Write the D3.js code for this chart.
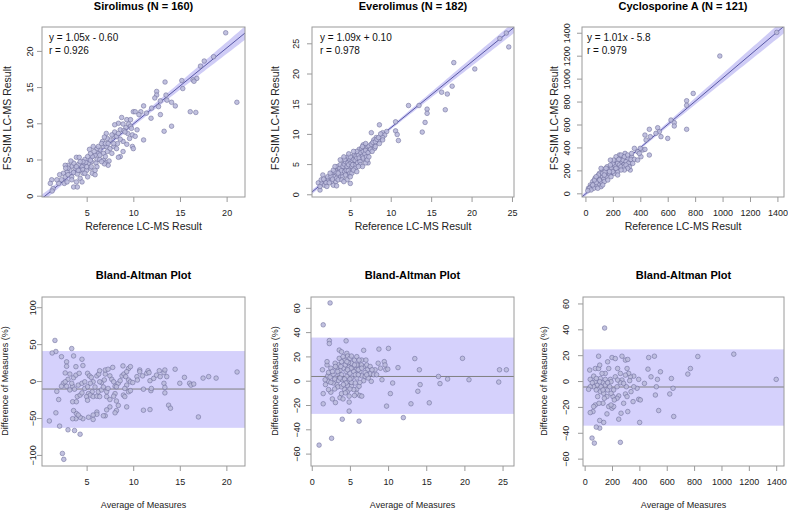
<!DOCTYPE html>
<html><head><meta charset="utf-8">
<script src="https://cdn.jsdelivr.net/npm/d3@7"></script>
<style>
body{margin:0;background:#fff;}
text{font-family:"Liberation Sans",Arial,Helvetica,sans-serif;}
</style></head>
<body>
<svg id="chart" width="788" height="510"></svg>
<script>
// ---------------- DATA ----------------
const titlesTop = ["Sirolimus (N = 160)", "Everolimus (N = 182)", "Cyclosporine A (N = 121)"];
const titleBottom = "Bland-Altman Plot";
const eqText = ["y = 1.05x - 0.60", "y = 1.09x + 0.10", "y = 1.01x - 5.8"];
const rText = ["r = 0.926", "r = 0.978", "r = 0.979"];
const slopes = [1.05, 1.09, 1.01];
const intercepts = [-0.60, 0.10, -5.8];
const baMean = [-10.8, 3.5, -4.6];
const baUpper = [40.6, 35.5, 24.5];
const baLower = [-63.3, -27.3, -34.5];

const siroXTicks = [5, 10, 15, 20];
const siroYTicks = [0, 5, 10, 15, 20];
const everXTicks = [5, 10, 15, 20, 25];
const everYTicks = [0, 5, 10, 15, 20, 25];
const cycXTicks = [0, 200, 400, 600, 800, 1000, 1200, 1400];
const cycYTicks = [0, 200, 400, 600, 800, 1000, 1200, 1400];
const siroBAXTicks = [5, 10, 15, 20];
const siroBAYTicks = [-100, -50, 0, 50, 100];
const everBAXTicks = [0, 5, 10, 15, 20, 25];
const everBAYTicks = [-60, -40, -20, 0, 20, 40, 60];
const cycBAXTicks = [0, 200, 400, 600, 800, 1000, 1200, 1400];
const cycBAYTicks = [-60, -40, -20, 0, 20, 40, 60];

// [reference, FS-SIM]
const sirolimus = [
[19.9,22.5],[21.1,12.9],[18.6,19.2],[17.6,18.6],[17.2,17.9],[16.8,16.2],[16.4,16.0],[16.5,15.8],[15.2,15.9],[15.3,14.8],
[16.1,11.6],[16.7,11.5],[13.4,15.7],[12.5,14.4],[12.5,13.9],[12.3,13.5],[13.5,13.9],[13.6,13.2],[12.9,13.1],[14.1,12.9],
[14.5,12.4],[13.3,8.9],[14.1,9.6],[11.1,12.4],[11.96,12.1],[10.8,11.6],[10.0,11.6],[10.2,11.6],[10.6,11.2],[11.9,10.7],
[12.9,11.2],[11.1,7.7],[10.4,9.1],[9.9,8.4],[10.2,8.2],[9.9,6.8],[10.0,6.5],[9.3,7.1],[8.9,7.5],[8.9,6.1],
[8.6,5.4],[8.4,5.3],[8.75,10.8],[8.4,10.0],[8.9,9.9],[9.2,9.4],[9.5,9.9],[9.7,9.6],[8.6,9.1],[9.0,9.0],
[9.4,8.6],[8.0,9.8],[8.0,8.8],[7.9,8.2],[8.2,8.2],[7.5,7.7],[7.1,8.6],[7.2,7.9],[6.7,7.5],[6.8,6.8],
[7.1,6.8],[7.5,6.5],[7.9,6.8],[7.7,5.85],[7.2,6.1],[6.8,5.85],[6.4,6.3],[6.1,6.5],[6.25,5.8],[5.9,5.6],
[6.1,5.0],[6.4,5.0],[6.8,4.9],[7.1,4.6],[7.4,4.8],[7.3,4.2],[6.9,4.4],[6.6,4.7],[5.6,5.4],[5.4,5.8],
[5.1,5.4],[4.8,5.0],[5.5,4.7],[5.2,4.5],[4.7,4.2],[4.5,4.0],[4.1,4.3],[3.9,5.3],[4.2,5.3],[4.3,3.5],
[4.6,3.6],[5.0,3.5],[5.4,3.8],[5.6,3.1],[5.9,2.9],[5.1,2.6],[4.6,3.1],[3.75,3.8],[3.4,4.1],[3.0,4.2],
[2.7,4.2],[3.2,3.5],[3.6,3.2],[4.0,3.0],[4.3,2.4],[3.9,1.9],[3.6,1.2],[4.0,1.2],[2.9,3.3],[2.5,3.1],
[2.1,2.9],[2.7,2.6],[3.0,2.9],[2.3,2.2],[2.0,1.7],[2.6,1.7],[2.9,1.9],[1.8,2.2],[1.25,2.2],[1.1,1.7],
[1.4,1.0],[1.3,0.65],[3.4,2.6],[4.5,1.9],[5.4,4.9],[5.8,6.1],[6.25,6.8],[6.6,7.2],[7.0,7.2],[7.3,7.2],
[6.9,8.1],[7.7,8.4],[8.4,8.6],[8.6,7.8],[8.3,7.2],[7.9,7.2],[6.0,4.5],[4.9,4.6],[4.6,4.7],[4.3,4.7],
[3.6,4.5],[3.3,4.8],[3.9,4.0],[3.0,3.8],[2.75,3.8],[5.0,4.0],[5.5,4.0],[6.1,4.0],[5.9,3.5],[4.8,3.1],
[4.1,3.5],[3.4,2.2],[9.3,10.5],[9.7,10.5],[9.1,8.8],[9.6,7.9],[11.4,11.4],[12.7,12.3],[9.8,9.3],[6.4,5.6],
[7.0,5.4],[5.7,6.8],[5.3,6.4],[8.2,6.5]
];
const everolimus = [
[24.3,26.7],[23.5,25.8],[24.6,24.4],[20.4,20.75],[17.8,21.8],[17.6,17.9],[17.0,16.6],[16.3,16.9],[16.75,14.0],[14.5,14.1],
[14.5,13.4],[13.5,14.7],[12.2,14.7],[14.25,11.9],[13.9,10.3],[10.6,12.0],[10.6,10.5],[10.8,9.9],[10.95,8.9],[8.6,11.5],
[7.6,10.2],[9.0,10.2],[9.5,10.4],[9.25,9.8],[9.0,9.4],[8.2,9.4],[8.5,8.9],[7.9,9.0],[7.7,8.4],[7.5,7.9],
[7.2,5.2],[5.0,1.8],[1.25,0.7],[1.04,1.9],[1.6,3.2],[1.5,1.8],[1.9,2.1],[1.8,1.5],[2.1,2.6],[2.3,2.4],
[2.5,2.8],[2.7,2.1],[2.8,3.5],[3.0,2.9],[3.2,2.1],[3.3,4.0],[3.5,3.2],[3.6,3.75],[3.8,2.9],[3.96,4.6],
[3.96,3.5],[4.2,4.0],[4.2,5.1],[4.4,4.3],[4.5,3.6],[4.6,4.9],[4.7,3.2],[4.8,5.4],[4.9,4.3],[5.0,4.9],
[5.1,5.7],[5.2,4.0],[5.3,6.2],[5.4,5.1],[5.5,4.6],[5.6,6.0],[5.75,5.4],[5.9,6.7],[6.0,5.8],[6.0,5.1],
[6.2,7.1],[6.3,6.2],[6.5,6.8],[6.5,5.7],[6.7,7.3],[6.8,6.2],[7.0,6.8],[7.1,7.45],[7.3,7.1],[7.4,7.6],
[7.7,7.9],[8.0,8.2],[1.4,2.4],[1.7,2.5],[2.0,1.9],[2.2,2.9],[2.4,1.9],[2.6,3.0],[2.8,2.5],[2.9,1.5],
[3.1,3.75],[3.3,2.65],[3.4,4.6],[3.5,2.4],[3.7,4.3],[3.75,4.9],[3.9,3.9],[4.05,2.9],[4.1,4.6],[4.25,5.0],
[4.3,3.75],[4.4,5.4],[4.5,4.0],[4.6,4.6],[4.7,5.2],[4.75,3.9],[4.8,4.9],[4.9,5.8],[4.96,3.5],[5.1,5.2],
[5.2,4.6],[5.25,5.6],[5.3,4.9],[5.4,5.8],[5.5,6.5],[5.6,5.6],[5.7,4.9],[5.7,6.3],[5.8,6.0],[5.9,5.2],
[6.0,6.5],[6.1,7.45],[6.1,6.0],[6.2,5.4],[6.3,6.9],[6.4,7.6],[6.5,6.3],[6.6,7.1],[6.6,6.0],[6.75,7.7],
[6.8,6.7],[6.9,7.3],[7.0,6.2],[7.1,7.9],[7.2,6.9],[7.3,8.0],[7.5,7.45],[7.6,8.3],[7.8,8.6],[8.0,7.6],
[8.1,8.7],[8.3,9.1],[8.5,9.4],[8.75,10.0],[3.5,3.5],[4.4,3.2],[5.2,3.5],[5.6,4.3],[6.25,4.9],[3.96,2.4],
[3.3,1.4],[4.7,6.2],[4.3,5.8],[5.8,7.1],[6.6,8.2],[6.5,4.6],[6.9,5.2],[1.25,1.3],[2.1,1.3],[5.0,6.2],
[5.4,4.0],[6.0,4.6],[3.75,5.7],[4.2,6.2],[4.6,2.4],[7.1,5.7],[7.3,6.2],[4.8,6.7],[7.7,7.1],[2.5,3.5],
[2.9,4.0],[8.1,7.9],[8.6,8.4],[9.0,9.0],[5.0,2.9],[5.8,3.75],[6.5,7.9],[4.2,2.1],[5.4,7.1],[6.9,8.4],
[3.1,4.6]
];
const cyclosporine = [
[1395,1403],[980,1197],[738,807],[738,767],[786,871],[738,558],[624,639],[648,616],[648,587],[600,479],
[551,494],[527,572],[539,537],[514,523],[466,558],[434,508],[473,494],[442,465],[466,334],[418,378],
[434,383],[400,392],[381,363],[357,392],[337,319],[327,203],[327,261],[308,305],[289,348],[272,319],
[260,276],[248,334],[223,276],[206,261],[192,232],[175,218],[158,232],[138,209],[119,189],[102,174],
[90,145],[70,131],[53,102],[36,73],[22,44],[41,58],[66,87],[85,102],[109,125],[126,145],
[150,174],[167,197],[187,218],[211,247],[235,261],[255,296],[274,290],[296,276],[313,261],[332,296],
[279,247],[240,218],[216,203],[192,180],[175,168],[150,145],[133,122],[114,102],[95,73],[78,58],
[61,44],[126,174],[114,218],[223,319],[260,334],[284,319],[308,334],[337,348],[357,296],[248,247],
[199,261],[182,247],[163,203],[143,189],[138,160],[102,116],[78,93],[53,73],[29,44],[114,58],
[90,44],[138,102],[163,116],[187,145],[211,174],[235,189],[260,232],[284,232],[320,232],[345,261],
[381,290],[405,319],[393,348],[199,189],[223,218],[175,189],[66,116],[95,160],[150,218],[206,290],
[243,296],[296,247],[308,218],[284,203],[260,203],[235,160],[41,29],[17,23],[126,73],[78,145],
[182,290]
];
// [average, difference %]
const sirolimusBA = [
[1.6,55],[1.7,40],[1.3,38],[2.3,33],[3.4,44],[3.6,34],[2.85,26],[2.85,20],[3.85,19.5],[4.5,29.5],
[4.6,21],[2.7,11],[3.2,9.5],[3.6,4.5],[3.0,2.3],[2.5,-3],[2.3,-7],[2.85,-7],[3.2,-12],[3.5,-7],
[3.7,-11],[1.8,-14],[2.0,-25],[3.5,-28],[3.9,-28],[4.0,-21],[4.3,-19],[4.5,-16],[4.1,-5.5],[3.85,8],
[4.2,10.5],[4.5,-3],[4.8,-1],[5.1,10.5],[5.3,7],[5.5,5],[5.7,-1],[6.1,7],[6.3,9.5],[5.9,-8],
[5.6,-14.5],[5.2,-17],[5.0,-21],[5.1,-26],[5.4,-19],[5.7,-21],[6.1,-20.5],[6.4,-21],[6.25,-14.5],[6.6,-12],
[6.8,-8],[6.6,-2],[6.9,1.5],[7.0,9.5],[7.0,15],[7.3,16],[7.8,18.5],[7.5,7],[7.7,2.3],[7.9,-1],
[8.05,-7],[8.4,-3],[8.6,0.5],[8.8,7],[9.0,9.5],[8.9,20.5],[9.5,17],[9.7,19.5],[9.3,12.7],[9.2,6],
[9.5,1.4],[9.7,-1],[9.95,-2],[9.3,-5.5],[9.1,-10],[9.5,-14.5],[8.95,-19],[9.1,-21],[9.3,-35],[9.7,-13],
[8.05,-17],[7.9,-20.5],[7.15,-21],[7.15,-14.5],[7.3,-10],[7.5,-25],[8.2,-27],[8.4,-33],[8.2,-40],[8.05,-43],
[7.5,-35],[7.15,-39],[7.0,-47],[6.8,-47],[6.1,-42],[6.1,-45],[5.7,-46],[5.7,-52],[5.2,-49],[4.6,-51],
[4.3,-49],[3.9,-44],[3.6,-40],[3.85,-51],[3.5,-51],[4.1,-46],[1.7,-43],[1.0,-54],[2.1,-61],[3.0,-66],
[3.7,-67],[4.3,-72],[2.4,-98],[2.55,-106],[10.4,6],[10.7,15],[10.7,12.7],[11.0,7],[11.45,10.5],[11.6,14],
[11.7,11.4],[10.45,1.4],[11.1,-11],[11.1,-39.5],[11.8,-38.6],[11.9,-13],[11.95,-10],[11.8,0.5],[12.2,3.6],[12.5,8],
[12.8,14],[13.3,11.4],[13.4,15],[12.9,6],[13.3,-3],[13.4,-8.6],[13.4,-16],[13.6,6],[13.8,-32.7],[14.0,-36.8],
[14.5,16],[15.0,-3],[15.5,5],[16.05,-3],[16.2,-5.5],[16.5,-4],[17.0,-48.6],[17.5,4],[18.1,6],[18.9,4],
[21.15,12.3],[8.2,-7.7],[6.4,14],[5.4,-3],[4.8,-10],[5.1,-7.7],[6.4,-1],[3.4,-3],[2.7,-1]
];
const everolimusBA = [
[2.4,64],[1.5,46],[2.3,33],[2.3,30.6],[4.5,32.8],[6.8,25],[8.8,26],[10.05,26.6],[1.4,9],[1.5,-10.6],
[1.5,-19],[0.96,-53],[2.6,-47.4],[4.0,-31.7],[6.2,-33.3],[4.9,-25],[4.9,-17.6],[2.7,-15],[2.5,-9.5],[3.1,-18],
[3.7,-14],[4.1,-15],[3.9,-10.6],[4.3,-7.3],[4.7,-4],[5.2,-4.6],[5.9,-6.8],[5.9,-10.6],[6.3,-12.2],[6.55,-12.7],
[6.2,-4.6],[5.5,-7.3],[4.7,-8.7],[3.85,-5],[3.3,-3.2],[2.8,-1.9],[2.2,-0.5],[1.75,0.8],[2.1,4],[2.2,6.8],
[2.0,13],[2.0,15.7],[2.5,10.3],[2.8,4.9],[3.1,2.2],[3.5,6.2],[3.5,13],[3.6,25.2],[3.9,23.8],[4.6,22.5],
[4.7,20.3],[5.0,18.4],[4.3,17],[3.9,15.7],[4.15,10.3],[4.5,7.6],[4.6,3.5],[4.0,0.8],[4.9,-0.5],[5.2,2.2],
[5.0,6.2],[5.3,10.3],[5.2,14.4],[5.6,17],[5.9,19.8],[6.1,13],[5.8,9],[6.3,7.6],[6.55,4],[5.9,2.2],
[6.8,11.7],[6.55,17],[7.1,17],[7.2,13],[7.3,9],[7.0,6.8],[6.8,0],[7.65,5.7],[8.1,4.9],[7.8,-0.5],
[8.3,9],[8.7,14.4],[9.0,10.3],[9.2,0.8],[9.5,15.7],[9.6,13],[9.7,9],[9.96,9.5],[9.8,-20.9],[10.3,-10.6],
[10.6,-1.9],[11.3,10.8],[13.5,18.2],[14.1,9],[14.2,-3.2],[13.9,-8.7],[13.0,-19],[12.0,-30.4],[15.4,-18.2],[16.6,3.5],
[16.8,-2.4],[17.8,1.4],[19.75,18.4],[20.6,0.8],[24.5,-1.1],[24.6,9],[25.5,9],[3.06,14.4],[3.3,10.3],[3.7,8.4],
[3.9,4.9],[4.4,13],[4.8,14.9],[4.9,11.1],[5.5,7.6],[5.7,4.9],[6.1,4.9],[4.3,1.4],[3.5,0.3],[3.0,1.4],
[2.4,3],[2.5,-1.4],[3.4,-5.1],[4.5,-1.9],[5.2,-1.4],[5.7,-1.9],[6.3,-1.4],[7.0,3.5],[7.4,2.2],[8.5,4.9],
[7.2,4.9],[5.15,10.3],[4.6,15.7],[3.6,18.4],[4.1,19.8],[5.2,20.3],[6.2,17],[6.5,13],[3.7,2.2],[4.15,-3.2],
[5.0,-6.8],[4.4,-10],[5.6,-12.2],[4.9,-12.7],[3.0,-6.8],[2.2,-7.3],[1.8,-3.2],[2.7,7.6],[3.1,11.7],[3.4,7.6],
[4.7,9],[3.8,11.7],[5.9,13],[5.6,13],[5.0,1.4],[7.65,11.7],[7.9,9],[6.1,9],[6.55,10.3]
];
const cyclosporineBA = [
[146,41],[1090,20.8],[1400,1.3],[827,19],[773,9.7],[754,5.4],[646,-5.6],[634,2],[622,-10],[651,-27.4],
[541,-22.8],[524,-4.4],[517,-10.8],[532,1.3],[554,7.2],[510,19.2],[468,18.2],[463,9.2],[485,3.3],[437,-1.8],
[395,1.3],[383,-5.6],[395,-14.1],[407,-14.6],[402,-32],[359,3.8],[334,3.3],[322,5.9],[329,0.3],[310,9.7],
[298,16.2],[315,16.7],[273,19.2],[305,-4.4],[298,-10],[285,-17.2],[315,-23.6],[266,-24.9],[249,-11.5],[273,0.8],
[261,-1.3],[237,-4.4],[212,-6.9],[224,3.3],[176,9.7],[188,1.3],[193,-0.5],[151,5.9],[127,5.9],[115,2],
[134,-1.3],[151,-3.1],[119,-4.4],[90,-3.1],[66,-4.4],[41,-4.4],[29,-6.4],[41,1.3],[37,8.5],[66,3.8],
[78,9.7],[102,9.7],[110,12.3],[102,19.2],[200,18.2],[224,17.4],[168,14.9],[241,9.7],[163,-12],[144,-13.3],
[134,-17.2],[176,-19.7],[200,-21],[212,-19.7],[193,-18.5],[237,-13.3],[207,-12],[163,-25.4],[139,-32],[110,-30.5],
[110,-36.4],[85,-35.6],[78,-18.5],[66,-19.7],[61,-23.6],[41,-24.4],[54,-44.1],[71,-48],[261,-47.4],[249,-29.5],
[95,-12],[85,-6.9],[115,-8.2],[139,-9.5],[168,-6.9],[183,-4.4],[151,1.3],[241,0.8],[261,5.9],[298,4.6],
[339,-8.2],[359,-4.4],[110,-0.5],[76,-0.5],[56,-1.3],[85,2],[285,-1.8],[193,-9.5],[217,-14.6],[168,-1.3],
[134,-6.9],[105,-17.2],[310,-12],[354,-15.9]
];

// ---------------- LAYOUT ----------------
const svg = d3.select("#chart");
const FONT = '"Liberation Sans",Arial,Helvetica,sans-serif';
const C = {
  box: "#9a9a9a", tick: "#9a9a9a", text: "#222",
  ptFill: "#babadb", ptStroke: "#6a6a98",
  band: "#c3bff4", line: "#4b4b9c", baBand: "#d5d1fc", mean: "#808080"
};

const topPanels = [
  {data: sirolimus, box:[42,245,27,197], xd:[0.21,21.97], yd:[-0.18,23.3], xt:siroXTicks, yt:siroYTicks, ytx:30, ylx:7, tx:49},
  {data: everolimus, box:[312,514,27,197], xd:[0.26,25.25], yd:[-0.45,27.7], xt:everXTicks, yt:everYTicks, ytx:296, ylx:275, tx:320},
  {data: cyclosporine, box:[582,784,27,197], xd:[-25,1448], yd:[-32,1450], xt:cycXTicks, yt:cycYTicks, ytx:567, ylx:554, tx:587}
];
const botPanels = [
  {data: sirolimusBA, box:[42,245,297,466], xd:[0.21,22.0], yd:[-115,113.8], xt:siroBAXTicks, yt:siroBAYTicks, ytx:33, ylx:5},
  {data: everolimusBA, box:[311,514,297,466], xd:[-0.1,26.5], yd:[-70.2,68.9], xt:everBAXTicks, yt:everBAYTicks, ytx:297, ylx:275},
  {data: cyclosporineBA, box:[583,784,297,466], xd:[-12,1457], yd:[-65.7,65], xt:cycBAXTicks, yt:cycBAYTicks, ytx:566, ylx:544}
];

function drawFrame(p, i, key, lab) {
  const [x0,x1,y0,y1] = p.box;
  const xs = d3.scaleLinear().domain(p.xd).range([x0,x1]);
  const ys = d3.scaleLinear().domain(p.yd).range([y1,y0]);
  const g = svg.append("g");
  const clipId = "clip-"+key+i;
  svg.append("clipPath").attr("id", clipId).append("rect")
    .attr("x", x0).attr("y", y0).attr("width", x1-x0).attr("height", y1-y0);
  // axes
  const ax = g.append("g").attr("transform", `translate(0,${y1})`)
    .call(d3.axisBottom(xs).tickValues(p.xt).tickSize(5).tickFormat(d3.format("d")));
  ax.select(".domain").remove();
  ax.selectAll("line").attr("stroke", C.tick);
  ax.selectAll("text").attr("y", 16).attr("dy", "0.35em")
    .attr("font-size", 9).attr("font-family", FONT).attr("fill", C.text);
  const ay = g.append("g").attr("transform", `translate(${x0},0)`)
    .call(d3.axisLeft(ys).tickValues(p.yt).tickSize(5).tickFormat(d3.format("d")));
  ay.select(".domain").remove();
  ay.selectAll("line").attr("stroke", C.tick);
  ay.selectAll("text").attr("x", null).attr("dy", "0.35em")
    .attr("transform", `translate(${p.ytx - x0},0) rotate(-90)`)
    .attr("text-anchor", "middle")
    .attr("font-size", 9).attr("font-family", FONT).attr("fill", C.text);
  // labels
  g.append("text").attr("x", (x0+x1)/2).attr("y", lab.xlabY).attr("text-anchor","middle")
    .attr("font-size", lab.size).attr("fill", C.text).text(lab.x);
  g.append("text").attr("transform", `translate(${p.ylx},${lab.ylabCY}) rotate(-90)`)
    .attr("dy","0.35em").attr("text-anchor","middle")
    .attr("font-size", lab.size).attr("fill", C.text).text(lab.y);
  g.append("text").attr("x", (x0+x1)/2).attr("y", lab.titleY).attr("text-anchor","middle")
    .attr("font-size", 11).attr("font-weight","bold").attr("fill","#000").text(lab.title);
  return {xs, ys, g, clipId};
}

function drawPoints(g, xs, ys, data, clipId) {
  g.append("g").attr("clip-path", `url(#${clipId})`).selectAll("circle").data(data).join("circle")
    .attr("cx", d => xs(d[0])).attr("cy", d => ys(d[1])).attr("r", 2.3)
    .attr("fill", C.ptFill).attr("fill-opacity", 0.9)
    .attr("stroke", C.ptStroke).attr("stroke-width", 0.55);
}

function drawBox(g, p) {
  const [x0,x1,y0,y1] = p.box;
  g.append("rect").attr("x", x0).attr("y", y0).attr("width", x1-x0).attr("height", y1-y0)
    .attr("fill","none").attr("stroke", C.box).attr("stroke-width", 1);
}

// ----- top row: method comparison -----
topPanels.forEach((p, i) => {
  const {xs, ys, g, clipId} = drawFrame(p, i, "t", {
    x: "Reference LC-MS Result", y: "FS-SIM LC-MS Result", size: 10.5,
    xlabY: 230, ylabCY: 118, title: titlesTop[i], titleY: 10});
  const a = intercepts[i], b = slopes[i];
  const n = p.data.length;
  const mx = d3.mean(p.data, d => d[0]);
  const sxx = d3.sum(p.data, d => (d[0]-mx)**2);
  const s = Math.sqrt(d3.sum(p.data, d => (d[1] - (a + b*d[0]))**2) / (n-2));
  const xsamp = d3.range(0, 61).map(k => p.xd[0] + (p.xd[1]-p.xd[0])*k/60);
  const hw = x => 1.97 * s * Math.sqrt(1/n + (x-mx)**2/sxx);
  const cg = g.append("g").attr("clip-path", `url(#${clipId})`);
  cg.append("path").datum(xsamp)
    .attr("d", d3.area().x(x => xs(x)).y0(x => ys(a+b*x-hw(x))).y1(x => ys(a+b*x+hw(x))))
    .attr("fill", C.band).attr("fill-opacity", 0.8);
  cg.append("line").attr("x1", xs(p.xd[0])).attr("y1", ys(a+b*p.xd[0]))
    .attr("x2", xs(p.xd[1])).attr("y2", ys(a+b*p.xd[1]))
    .attr("stroke", C.line).attr("stroke-width", 0.9);
  drawPoints(g, xs, ys, p.data, clipId);
  drawBox(g, p);
  g.append("text").attr("x", p.tx).attr("y", 41).attr("font-size", 10).attr("fill","#111").text(eqText[i]);
  g.append("text").attr("x", p.tx).attr("y", 54).attr("font-size", 10).attr("fill","#111").text(rText[i]);
});

// ----- bottom row: Bland-Altman -----
botPanels.forEach((p, i) => {
  const {xs, ys, g, clipId} = drawFrame(p, i, "b", {
    x: "Average of Measures", y: "Difference of Measures (%)", size: 9,
    xlabY: 508, ylabCY: 381, title: titleBottom, titleY: 279});
  const cg = g.append("g").attr("clip-path", `url(#${clipId})`);
  cg.append("rect").attr("x", xs(p.xd[0])).attr("width", xs(p.xd[1]) - xs(p.xd[0]))
    .attr("y", ys(baUpper[i])).attr("height", ys(baLower[i]) - ys(baUpper[i]))
    .attr("fill", C.baBand);
  cg.append("line").attr("x1", xs(p.xd[0])).attr("x2", xs(p.xd[1]))
    .attr("y1", ys(baMean[i])).attr("y2", ys(baMean[i]))
    .attr("stroke", C.mean).attr("stroke-width", 1);
  drawPoints(g, xs, ys, p.data, clipId);
  drawBox(g, p);
});
</script>
</body></html>
